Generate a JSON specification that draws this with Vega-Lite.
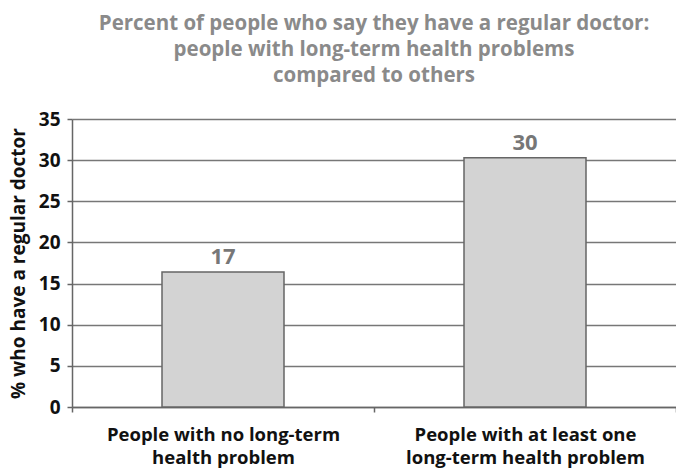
{
  "$schema": "https://vega.github.io/schema/vega-lite/v6.json",
  "autosize": "none",
  "width": 604,
  "height": 288,
  "padding": {"left": 72, "top": 119, "right": 0, "bottom": 61},
  "background": "white",
  "title": {
    "text": ["Percent of people who say they have a regular doctor:", "people with long-term health problems", "compared to others"],
    "font": "Open Sans",
    "fontSize": 20.5,
    "fontWeight": "bold",
    "color": "#8a8a8a",
    "anchor": "middle",
    "lineHeight": 26,
    "offset": 24
  },
  "data": {
    "values": [
      {"group": "People with no long-term health problem", "percent": 16.4, "label": "17"},
      {"group": "People with at least one long-term health problem", "percent": 30.3, "label": "30"}
    ]
  },
  "encoding": {
    "x": {
      "field": "group",
      "type": "nominal",
      "sort": null,
      "scale": {"paddingInner": 0, "paddingOuter": 0},
      "axis": {
        "title": null,
        "labelAngle": 0,
        "labelFont": "Open Sans",
        "labelFontSize": 18.5,
        "labelFontWeight": "bold",
        "labelColor": "#111",
        "labelLineHeight": 23,
        "labelPadding": 13,
        "labelLimit": 400,
        "labelExpr": "datum.value == 'People with no long-term health problem' ? ['People with no long-term', 'health problem'] : datum.value == 'People with at least one long-term health problem' ? ['People with at least one', 'long-term health problem'] : ''",
        "tickBand": "extent",
        "tickColor": "#666",
        "tickWidth": 1.5,
        "tickSize": 5,
        "domainColor": "#666",
        "domainWidth": 1.5,
        "grid": false
      }
    },
    "y": {
      "field": "percent",
      "type": "quantitative",
      "scale": {"domain": [0, 35], "nice": false},
      "axis": {
        "title": "% who have a regular doctor",
        "titleFont": "Open Sans",
        "titleFontSize": 19,
        "titleFontWeight": "bold",
        "titleColor": "#111",
        "titlePadding": 10,
        "values": [0, 5, 10, 15, 20, 25, 30, 35],
        "labelFont": "Open Sans",
        "labelFontSize": 19,
        "labelFontWeight": "bold",
        "labelColor": "#111",
        "labelPadding": 7,
        "tickSize": 5,
        "tickColor": "#666",
        "tickWidth": 1.5,
        "domainColor": "#666",
        "domainWidth": 1.5,
        "gridColor": "#777",
        "gridWidth": 1.5,
        "gridOpacity": 1
      }
    }
  },
  "layer": [
    {
      "mark": {"type": "bar", "size": 122, "fill": "#d3d3d3", "stroke": "#666", "strokeWidth": 1.5}
    },
    {
      "mark": {"type": "text", "baseline": "bottom", "dy": -3, "font": "Open Sans", "fontSize": 22, "fontWeight": "bold", "color": "#777"},
      "encoding": {"text": {"field": "label"}}
    }
  ],
  "config": {"view": {"stroke": null}}
}
